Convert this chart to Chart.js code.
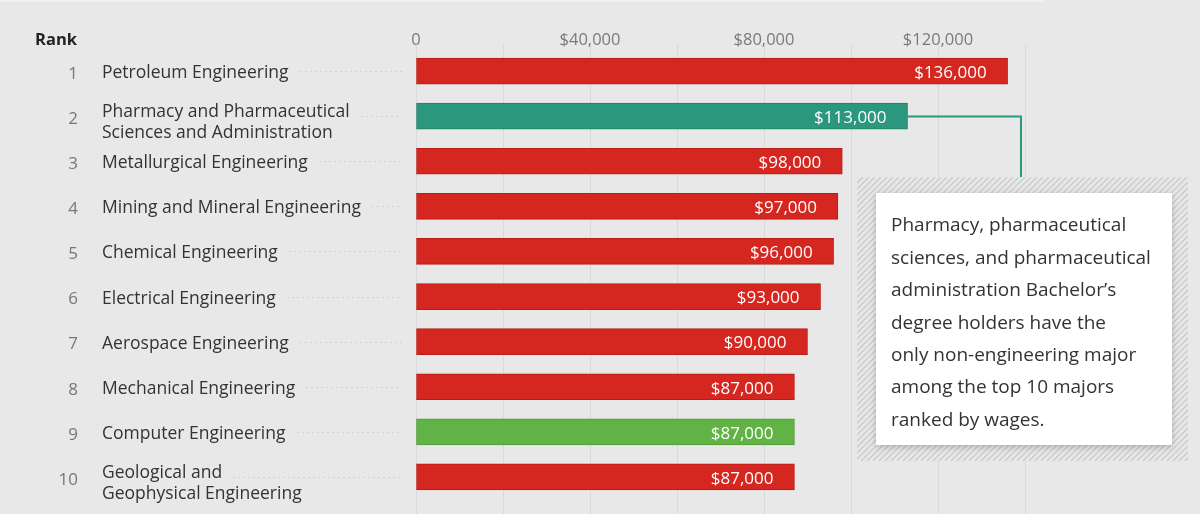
<!DOCTYPE html>
<html>
<head>
<meta charset="utf-8">
<script src="https://cdn.jsdelivr.net/npm/chart.js@4.4.1/dist/chart.umd.min.js"></script>
<style>
  html, body { margin: 0; padding: 0; background: #e7e8e7; }
  #wrap { width: 1200px; height: 514px; position: relative; }
</style>
</head>
<body>
<div id="wrap"><canvas id="wageChart" width="1200" height="514"></canvas></div>
<script>
const ranks = [1, 2, 3, 4, 5, 6, 7, 8, 9, 10];
const majors = [
  ["Petroleum Engineering"],
  ["Pharmacy and Pharmaceutical", "Sciences and Administration"],
  ["Metallurgical Engineering"],
  ["Mining and Mineral Engineering"],
  ["Chemical Engineering"],
  ["Electrical Engineering"],
  ["Aerospace Engineering"],
  ["Mechanical Engineering"],
  ["Computer Engineering"],
  ["Geological and", "Geophysical Engineering"],
];
const wages = [136000, 113000, 98000, 97000, 96000, 93000, 90000, 87000, 87000, 87000];
const barColors = ["#d5261f", "#2a977e", "#d5261f", "#d5261f", "#d5261f", "#d5261f", "#d5261f", "#d5261f", "#62b345", "#d5261f"];
const barEdges = ["#b91d18", "#20806a", "#b91d18", "#b91d18", "#b91d18", "#b91d18", "#b91d18", "#b91d18", "#4f9b36", "#b91d18"];
const xTicks = [0, 40000, 80000, 120000];
const noteLines = [
  "Pharmacy, pharmaceutical",
  "sciences, and pharmaceutical",
  "administration Bachelor\u2019s",
  "degree holders have the",
  "only non-engineering major",
  "among the top 10 majors",
  "ranked by wages.",
];

const FONT = "'Open Sans', 'Noto Sans', sans-serif";
const money = (v) => "$" + v.toLocaleString("en-US");
const NUDGE = 2; // Open Sans sits a little high with textBaseline middle

// grid lines run a bit past the plot area in the original
const gridExtend = {
  id: "gridExtend",
  beforeDatasetsDraw(chart) {
    const { ctx, chartArea, scales } = chart;
    ctx.save();
    ctx.strokeStyle = "#d8d9d8";
    ctx.lineWidth = 1;
    scales.x.ticks.forEach((t) => {
      const x = Math.round(scales.x.getPixelForValue(t.value)) + 0.5;
      ctx.beginPath();
      ctx.moveTo(x, chartArea.top - 4);
      ctx.lineTo(x, chartArea.top);
      ctx.moveTo(x, chartArea.bottom);
      ctx.lineTo(x, chart.height);
      ctx.stroke();
    });
    ctx.restore();
  },
};

const labelsPlugin = {
  id: "labelsPlugin",
  afterDatasetsDraw(chart) {
    const { ctx } = chart;
    const meta = chart.getDatasetMeta(0);
    ctx.save();

    // faint edge at the very top
    ctx.fillStyle = "#f0f1f0";
    ctx.fillRect(0, 0, 1045, 2);

    // header
    ctx.font = "bold 16.5px " + FONT;
    ctx.fillStyle = "#222";
    ctx.textAlign = "right";
    ctx.textBaseline = "middle";
    ctx.fillText("Rank", 77, 40);

    meta.data.forEach((bar, i) => {
      const y = bar.y + NUDGE;

      // value inside bar
      ctx.font = "17px " + FONT;
      ctx.fillStyle = "#fff";
      ctx.textAlign = "right";
      ctx.fillText(money(wages[i]), bar.x - 21, y);

      // rank
      ctx.font = "17px " + FONT;
      ctx.fillStyle = "#777";
      ctx.fillText(String(ranks[i]), 78, y + 1);

      // major name
      ctx.font = "17.5px " + FONT;
      ctx.textAlign = "left";
      ctx.fillStyle = "#333";
      const lines = majors[i];
      if (lines.length === 1) {
        ctx.fillText(lines[0], 102, y);
      } else {
        ctx.fillText(lines[0], 102, y - 6);
        ctx.fillText(lines[1], 102, y + 15);
      }
      const lead = 102 + ctx.measureText(lines[0]).width + 11;

      // dotted leader
      ctx.fillStyle = "#d2d3d2";
      for (let x = lead; x < 400; x += 5) {
        ctx.fillRect(Math.round(x), Math.round(bar.y), 2, 1);
      }
    });

    // connector from bar 2 to the note
    const b2 = meta.data[1];
    ctx.strokeStyle = "#2a977e";
    ctx.lineWidth = 2;
    ctx.beginPath();
    ctx.moveTo(b2.x, Math.round(b2.y) + 0.5);
    ctx.lineTo(1021, Math.round(b2.y) + 0.5);
    ctx.lineTo(1021, 193);
    ctx.stroke();

    // hatched backdrop
    const hx = 857, hy = 177, hw = 331, hh = 284;
    ctx.save();
    ctx.beginPath();
    ctx.rect(hx, hy, hw, hh);
    ctx.clip();
    ctx.fillStyle = "#e7e8e7";
    ctx.fillRect(hx, hy, hw, hh);
    ctx.strokeStyle = "#c9cac9";
    ctx.lineWidth = 1.3;
    for (let k = -hh; k < hw; k += 6) {
      ctx.beginPath();
      ctx.moveTo(hx + k, hy + hh);
      ctx.lineTo(hx + k + hh, hy);
      ctx.stroke();
    }
    ctx.restore();

    // note box
    ctx.save();
    ctx.shadowColor = "rgba(0,0,0,0.22)";
    ctx.shadowBlur = 6;
    ctx.shadowOffsetY = 2;
    ctx.fillStyle = "#fff";
    ctx.fillRect(876, 193, 296, 252);
    ctx.restore();

    ctx.font = "19px " + FONT;
    ctx.fillStyle = "#333";
    ctx.textAlign = "left";
    ctx.textBaseline = "middle";
    noteLines.forEach((line, i) => {
      ctx.fillText(line, 891, 224 + NUDGE + i * 32.4);
    });

    ctx.restore();
  },
};

const ctx = document.getElementById("wageChart").getContext("2d");
new Chart(ctx, {
  type: "bar",
  data: {
    labels: majors.map((m) => m.join(" ")),
    datasets: [
      {
        data: wages,
        backgroundColor: barColors,
        borderColor: barEdges,
        borderWidth: 1,
        borderSkipped: false,
        barThickness: 26,
      },
    ],
  },
  options: {
    indexAxis: "y",
    responsive: false,
    animation: false,
    devicePixelRatio: 1,
    layout: {
      padding: { left: 416, right: 175, top: 0, bottom: 14.5 },
    },
    scales: {
      x: {
        position: "top",
        min: 0,
        max: 140000,
        afterFit: (s) => {
          s.height = 48.5;
        },
        ticks: {
          stepSize: 20000,
          padding: -2,
          color: "#7a7a7a",
          font: { family: FONT, size: 16.5 },
          callback: (v) => (xTicks.includes(v) ? (v === 0 ? "0" : money(v)) : ""),
        },
        grid: {
          color: "#d8d9d8",
          drawTicks: false,
        },
        border: { display: false },
      },
      y: {
        display: false,
      },
    },
    plugins: {
      legend: { display: false },
      tooltip: { enabled: false },
    },
  },
  plugins: [gridExtend, labelsPlugin],
});
</script>
</body>
</html>
